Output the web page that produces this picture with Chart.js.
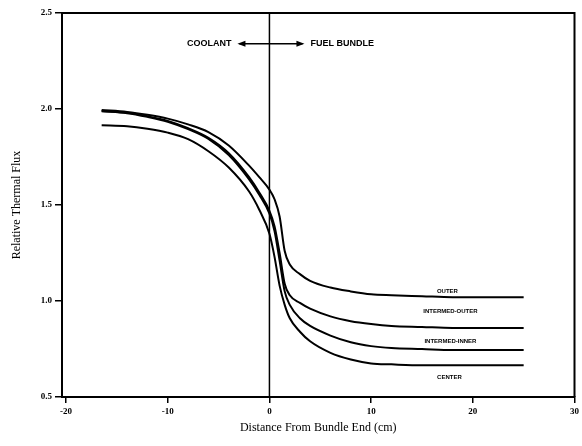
<!DOCTYPE html>
<html>
<head>
<meta charset="utf-8">
<script src="https://cdn.jsdelivr.net/npm/chart.js@4.4.0/dist/chart.umd.min.js"></script>
<style>
  html, body { margin: 0; padding: 0; background: #fff; }
  #wrap { width: 582px; height: 446px; }
</style>
</head>
<body>
<div id="wrap"><canvas id="fluxChart" width="582" height="446"></canvas></div>
<script>
// values
const distance = [-16.5, -14, -12, -10, -8, -6, -4, -2, -1, 0, 0.5, 1, 1.5, 2, 3, 4, 6, 8, 10, 12, 15, 18, 21, 25];
const outer =         [1.995, 1.985, 1.97, 1.95, 1.92, 1.88, 1.81, 1.705, 1.645, 1.58, 1.53, 1.44, 1.26, 1.19, 1.14, 1.105, 1.07, 1.05, 1.035, 1.03, 1.025, 1.02, 1.02, 1.02];
const intermedOuter = [1.99, 1.98, 1.962, 1.938, 1.90, 1.85, 1.77, 1.645, 1.565, 1.47, 1.39, 1.25, 1.09, 1.03, 0.99, 0.96, 0.92, 0.895, 0.88, 0.87, 0.865, 0.86, 0.86, 0.86];
const intermedInner = [1.988, 1.978, 1.959, 1.934, 1.895, 1.844, 1.76, 1.633, 1.553, 1.455, 1.365, 1.21, 1.05, 0.98, 0.91, 0.87, 0.82, 0.785, 0.765, 0.755, 0.75, 0.745, 0.745, 0.745];
const center =        [1.915, 1.91, 1.897, 1.877, 1.843, 1.78, 1.695, 1.57, 1.475, 1.35, 1.23, 1.08, 0.98, 0.91, 0.84, 0.79, 0.73, 0.695, 0.675, 0.67, 0.665, 0.665, 0.665, 0.665];

const seriesNames = ['OUTER', 'INTERMED-OUTER', 'INTERMED-INNER', 'CENTER'];
const seriesValues = [outer, intermedOuter, intermedInner, center];
// where the little curve labels sit (x, y in data units)
const labelX = [17.5, 17.8, 17.8, 17.7];
const labelY = [1.05, 0.945, 0.79, 0.6];

const xTicks = [-20, -10, 0, 10, 20, 30];
const yTicks = [0.5, 1.0, 1.5, 2.0, 2.5];

function toPoints(ys) {
  return distance.map((d, i) => ({ x: d, y: ys[i] }));
}

// Plot frame, x=0 divider, coolant / fuel bundle note, curve labels
const annotations = {
  id: 'annotations',
  afterDatasetsDraw(chart) {
    const c = chart.ctx;
    const xs = chart.scales.x, ys = chart.scales.y;
    const a = chart.chartArea;
    c.save();
    c.strokeStyle = '#000';
    c.fillStyle = '#000';

    // top and right frame
    c.lineWidth = 2;
    c.beginPath();
    c.moveTo(a.left, a.top);
    c.lineTo(a.right, a.top);
    c.lineTo(a.right, a.bottom);
    c.stroke();

    // divider at x=0
    const x0 = xs.getPixelForValue(0);
    c.lineWidth = 1.5;
    c.beginPath();
    c.moveTo(x0, a.top);
    c.lineTo(x0, a.bottom);
    c.stroke();

    // arrows
    const ay = ys.getPixelForValue(2.34);
    c.lineWidth = 1.5;
    c.beginPath();
    c.moveTo(x0 - 30, ay);
    c.lineTo(x0 + 33, ay);
    c.stroke();
    c.beginPath();
    c.moveTo(x0 - 32, ay);
    c.lineTo(x0 - 24, ay - 3);
    c.lineTo(x0 - 24, ay + 3);
    c.closePath();
    c.fill();
    c.beginPath();
    c.moveTo(x0 + 35, ay);
    c.lineTo(x0 + 27, ay - 3);
    c.lineTo(x0 + 27, ay + 3);
    c.closePath();
    c.fill();

    c.font = 'bold 9px "Liberation Sans Narrow", "Liberation Sans", sans-serif';
    c.textBaseline = 'middle';
    c.textAlign = 'right';
    c.fillText('COOLANT', x0 - 38, ay);
    c.textAlign = 'left';
    c.fillText('FUEL BUNDLE', x0 + 41, ay);

    // curve labels
    c.font = 'bold 6px "Liberation Sans Narrow", "Liberation Sans", sans-serif';
    c.textAlign = 'center';
    seriesNames.forEach((name, i) => {
      c.fillText(name, xs.getPixelForValue(labelX[i]), ys.getPixelForValue(labelY[i]));
    });
    c.restore();
  }
};

const tickFont = { family: '"Liberation Serif", "DejaVu Serif", serif', size: 9, weight: 'bold' };
const titleFont = { family: '"Liberation Serif", "DejaVu Serif", serif', size: 12 };

const ctx = document.getElementById('fluxChart').getContext('2d');
const fluxChart = new Chart(ctx, {
  type: 'line',
  data: {
    datasets: seriesNames.map((name, i) => ({
      label: name,
      data: toPoints(seriesValues[i]),
      borderColor: '#000',
      borderWidth: 2,
      pointRadius: 0,
      fill: false,
      cubicInterpolationMode: 'monotone'
    }))
  },
  options: {
    responsive: false,
    animation: false,
    layout: { padding: { top: 13, right: 4, left: 6, bottom: 0 } },
    plugins: {
      legend: { display: false },
      tooltip: { enabled: false }
    },
    scales: {
      x: {
        type: 'linear',
        min: -20.4,
        max: 30,
        afterBuildTicks: s => { s.ticks = xTicks.map(v => ({ value: v })); },
        afterFit: s => { s.height = 49; },
        grid: { drawOnChartArea: false, drawTicks: true, tickLength: 6, color: '#000', lineWidth: 1.5 },
        border: { display: true, color: '#000', width: 2 },
        ticks: { color: '#000', font: tickFont, padding: 3, maxRotation: 0 },
        title: { display: true, text: 'Distance From Bundle End (cm)', color: '#000', font: titleFont, padding: { top: 2, bottom: 11 } }
      },
      y: {
        min: 0.5,
        max: 2.5,
        afterBuildTicks: s => { s.ticks = yTicks.map(v => ({ value: v })); },
        afterFit: s => { s.width = 56; },
        grid: { drawOnChartArea: false, drawTicks: true, tickLength: 7, color: '#000', lineWidth: 1.5 },
        border: { display: true, color: '#000', width: 2 },
        ticks: { color: '#000', font: tickFont, padding: 3, callback: v => v.toFixed(1) },
        title: { display: true, text: 'Relative Thermal Flux', color: '#000', font: titleFont, padding: { bottom: 8 } }
      }
    }
  },
  plugins: [annotations]
});
</script>
</body>
</html>
